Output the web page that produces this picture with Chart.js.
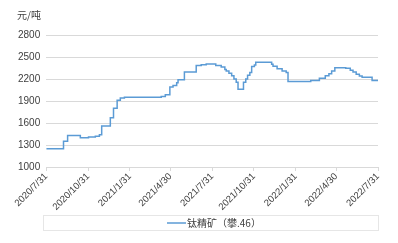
<!DOCTYPE html>
<html><head><meta charset="utf-8">
<script src="https://cdn.jsdelivr.net/npm/chart.js@4/dist/chart.umd.min.js"></script>
<style>html,body{margin:0;padding:0;background:#fff}#w{width:398px;height:243px}</style>
</head><body><div id="w"><canvas id="c"></canvas></div>
<script>
const seriesName = '钛精矿（攀.46）';
const unitLabel = '元/吨';
const dates = ['2020-07-31','2020-09-07','2020-09-16','2020-10-14','2020-11-01','2020-11-16','2020-11-25','2020-11-30','2020-12-19','2020-12-26',
 '2021-01-03','2021-01-10','2021-01-19','2021-04-10','2021-04-19','2021-04-29','2021-05-06','2021-05-14','2021-05-17','2021-05-31',
 '2021-06-26','2021-07-07','2021-07-18','2021-08-08','2021-08-20','2021-08-28','2021-08-31','2021-09-06','2021-09-12','2021-09-17',
 '2021-09-22','2021-09-26','2021-10-08','2021-10-13','2021-10-17','2021-10-22','2021-10-26','2021-11-01','2021-11-04','2021-12-09',
 '2021-12-12','2021-12-21','2022-01-01','2022-01-10','2022-01-14','2022-03-05','2022-03-24','2022-04-06','2022-04-14','2022-04-20',
 '2022-04-27','2022-05-21','2022-05-31','2022-06-06','2022-06-13','2022-06-20','2022-06-26','2022-07-18','2022-07-31'];
const prices = [1250,1350,1430,1400,1410,1420,1440,1560,1670,1800,
 1910,1940,1950,1960,1985,2090,2110,2150,2190,2295,
 2385,2395,2405,2385,2365,2330,2310,2280,2245,2200,
 2155,2060,2155,2200,2250,2290,2370,2390,2430,2400,
 2375,2340,2310,2290,2165,2180,2210,2245,2270,2310,
 2355,2345,2320,2295,2265,2240,2225,2180,2180];
const xTickLabels = ['2020/7/31','2020/10/31','2021/1/31','2021/4/30','2021/7/31','2021/10/31','2022/1/31','2022/4/30','2022/7/31'];
const yTicks = [1000,1300,1600,1900,2200,2500,2800];

function dayOf(s){const p=s.split(/[-\/]/).map(Number);return Math.round((Date.UTC(p[0],p[1]-1,p[2])-Date.UTC(2020,6,31))/86400000);}
const pts = dates.map((d,i)=>({x:dayOf(d),y:prices[i]}));
const tickDays = xTickLabels.map(dayOf);
const font = {family:'"Liberation Sans","Noto Sans CJK SC",sans-serif', size:9.5};
const lineColor = '#5b9bd5';

const extras = {
  id:'extras',
  afterDraw(chart){
    const ctx=chart.ctx;
    ctx.save();
    ctx.fillStyle='#404040';
    ctx.font='10px "Noto Sans CJK SC","Liberation Sans",sans-serif';
    ctx.textBaseline='middle';
    ctx.textAlign='left';
    ctx.fillText(unitLabel,17,15);
    ctx.strokeStyle='#e6e6e6';
    ctx.lineWidth=1;
    ctx.strokeRect(43.5,215.5,335,15);
    // legend
    const ds=chart.data.datasets[0];
    ctx.strokeStyle=ds.borderColor;
    ctx.lineWidth=1.5;
    ctx.beginPath();ctx.moveTo(167,223);ctx.lineTo(186,223);ctx.stroke();
    ctx.fillStyle='#404040';
    ctx.font='10px "Noto Sans CJK SC",sans-serif';
    ctx.fillText(ds.label,187,223);
    ctx.restore();
  }
};

new Chart(document.getElementById('c'),{
  type:'line',
  data:{datasets:[{label:seriesName,data:pts,borderColor:lineColor,backgroundColor:lineColor,borderWidth:1.5,pointRadius:0,stepped:true,tension:0}]},
  options:{
    responsive:true,maintainAspectRatio:false,animation:false,
    layout:{padding:{top:35,right:20,left:12,bottom:30}},
    plugins:{
      legend:{display:false},
      tooltip:{enabled:false}
    },
    scales:{
      x:{type:'linear',min:0,max:730,
        afterBuildTicks(ax){ax.ticks=tickDays.map(v=>({value:v}));},
        afterFit(ax){ax.height=46;},
        ticks:{minRotation:45,maxRotation:45,font:font,color:'#404040',padding:0,
          callback:(v)=>{const i=tickDays.indexOf(v);return i>=0?xTickLabels[i]:'';}},
        grid:{drawOnChartArea:false,drawTicks:true,tickLength:4,color:'#d9d9d9'},
        border:{color:'#d9d9d9'}
      },
      y:{min:1000,max:2800,
        afterBuildTicks(ax){ax.ticks=yTicks.map(v=>({value:v}));},
        ticks:{font:{family:'"Liberation Sans",sans-serif',size:10},color:'#404040',padding:6,callback:(v)=>String(v)},
        grid:{color:'#d9d9d9',drawTicks:false},
        border:{display:false}
      }
    }
  },
  plugins:[extras]
});
</script></body></html>
